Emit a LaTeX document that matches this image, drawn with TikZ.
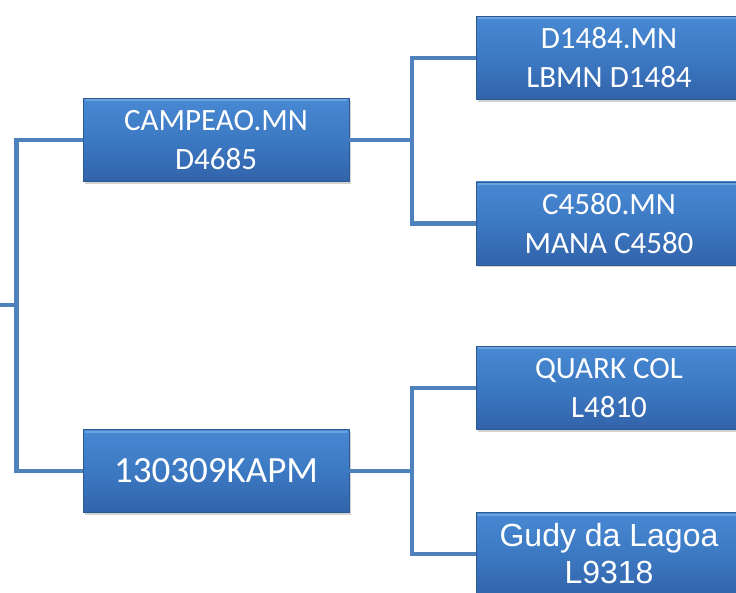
\documentclass[tikz,border=0pt]{standalone}
\usepackage{fontspec}
\setmainfont{Carlito}
\newfontfamily\arialfont{Liberation Sans}
\usetikzlibrary{shadows}
\definecolor{boxtop}{HTML}{4888D2}
\definecolor{boxmid}{HTML}{3C79C3}
\definecolor{boxbot}{HTML}{3263AA}
\definecolor{boxedge}{HTML}{2E5A94}
\definecolor{boxshine}{HTML}{6BA3E2}
\definecolor{linkblue}{HTML}{4F81BD}
\begin{document}
\begin{tikzpicture}[x=1pt, y=-1pt,
        horse/.style={draw=boxedge, line width=0.8pt, top color=boxtop, bottom color=boxbot, middle color=boxmid,
            drop shadow={shadow xshift=1.5pt, shadow yshift=-2.5pt, opacity=0.35},
            path picture={\draw[boxshine, line width=2pt]
                ([xshift=2pt,yshift=-2pt]path picture bounding box.north west) -- ([xshift=-2pt,yshift=-2pt]path picture bounding box.north east);},
            align=center, text=white, inner sep=0pt, minimum width=266pt, minimum height=83pt,
            font=\fontsize{31}{39}\selectfont},
        link/.style={draw=linkblue, line width=4.5pt}]
        \clip (0,0) rectangle (736,593);
        % parents
        \node[horse] (sire) at (216,140) {CAMPEAO.MN\\D4685};
        \node[horse, font=\fontsize{37}{40}\selectfont] (dam) at (216,471) {130309KAPM};
        % grandparents
        \node[horse] (ss) at (609,58) {D1484.MN\\LBMN D1484};
        \node[horse] (sd) at (609,223.5) {C4580.MN\\MANA C4580};
        \node[horse] (ds) at (609,388) {QUARK COL\\L4810};
        \node[horse, font=\arialfont\fontsize{32}{37}\selectfont] (dd) at (609,554) {Gudy da Lagoa\\L9318};
        % forks
        \coordinate (root) at (0,305);
        \coordinate (rootfork) at (16.5,305);
        \coordinate (sirefork) at (412,140);
        \coordinate (damfork) at (412,471);
        \draw[link] (root) -- (rootfork);
        \draw[link] (sire.west) -| (rootfork) |- (dam.west);
        \draw[link] (sire.east) -- (sirefork);
        \draw[link] (ss.west) -| (sirefork) |- (sd.west);
        \draw[link] (dam.east) -- (damfork);
        \draw[link] (ds.west) -| (damfork) |- (dd.west);
    \end{tikzpicture}
\end{document}
